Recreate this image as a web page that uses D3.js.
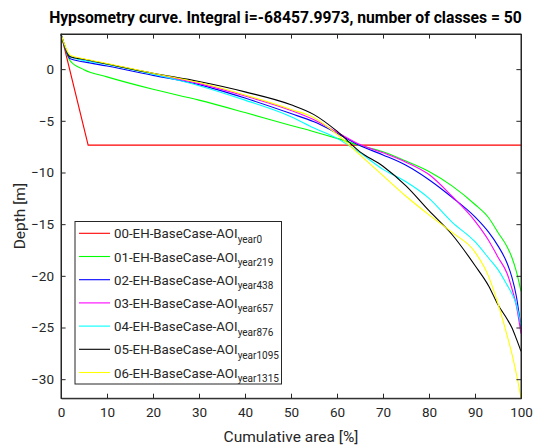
<!DOCTYPE html>
<html><head><meta charset="utf-8">
<script src="https://cdn.jsdelivr.net/npm/d3@7"></script>
<style>body{margin:0;background:#fff;} text{font-family:Roboto, sans-serif;}</style>
</head><body><svg id="c" width="534" height="446"></svg>
<script>
const titleText = "Hypsometry curve. Integral i=-68457.9973, number of classes = 50";
const xTicks = [0,10,20,30,40,50,60,70,80,90,100];
const yTicks = [-30,-25,-20,-15,-10,-5,0];
const seriesNames = ["00-EH-BaseCase-AOI","01-EH-BaseCase-AOI","02-EH-BaseCase-AOI","03-EH-BaseCase-AOI","04-EH-BaseCase-AOI","05-EH-BaseCase-AOI","06-EH-BaseCase-AOI"];
const seriesSubs = ["year0","year219","year438","year657","year876","year1095","year1315"];
const seriesColors = ["#ff0000","#00ff00","#0000ff","#ff00ff","#00ffff","#000000","#ffff00"];
// red (year 0)
const redX = [0, 5.9, 100];
const redY = [3.4, -7.35, -7.35];
// shared cumulative-area positions for other series
const areaX   = [0, 2, 5, 10, 20, 30, 40, 50, 55, 60, 65, 70, 75, 80, 85, 90, 93, 95, 97, 98, 99, 100];
const green   = [3.4, 0.8, -0.05, -0.75, -1.95, -3.0, -4.2, -5.45, -6.05, -6.7, -7.4, -8.0, -8.9, -9.9, -11.3, -13.1, -14.4, -15.8, -17.2, -18.2, -19.6, -21.5];
const blue    = [3.4, 1.0, 0.7, 0.3, -0.6, -1.5, -2.8, -4.3, -5.1, -6.2, -7.4, -8.3, -9.3, -10.7, -12.4, -14.3, -15.8, -17.1, -18.8, -20.1, -22.0, -25.0];
const magenta = [3.4, 1.2, 0.9, 0.5, -0.45, -1.4, -2.6, -4.0, -4.9, -6.1, -7.3, -8.1, -9.0, -10.2, -12.3, -14.7, -16.6, -18.2, -19.8, -21.2, -22.9, -25.6];
const cyan    = [3.4, 1.2, 0.85, 0.45, -0.5, -1.6, -3.0, -4.6, -5.7, -6.7, -8.1, -9.7, -10.9, -12.5, -14.8, -16.7, -18.3, -19.4, -20.9, -21.7, -22.8, -24.8];
const black   = [3.4, 1.2, 0.95, 0.5, -0.4, -1.2, -2.2, -3.45, -4.4, -6.0, -8.0, -9.4, -11.3, -13.7, -16.0, -19.0, -21.0, -22.8, -24.2, -25.0, -26.1, -27.3];
const yellow  = [3.4, 1.35, 1.0, 0.55, -0.4, -1.3, -2.5, -3.9, -4.7, -6.3, -8.3, -10.3, -12.3, -14.1, -15.8, -17.7, -20.1, -22.7, -25.8, -27.5, -29.5, -31.8];

const svg = d3.select("#c");
const L = 61, R = 521, T = 34, B = 398.3;
const x = d3.scaleLinear().domain([0,100]).range([L,R]);
const y = d3.scaleLinear().domain([-31.85,3.4]).range([B,T]);
const axisCol = "#262626";

const series = [
  redX.map((v,i)=>[v,redY[i]]),
  ...[green,blue,magenta,cyan,black,yellow].map(arr=>areaX.map((v,i)=>[v,arr[i]]))
];
const lineLin = d3.line().x(d=>x(d[0])).y(d=>y(d[1]));
const lineSm = d3.line().x(d=>x(d[0])).y(d=>y(d[1])).curve(d3.curveMonotoneX);
const g = svg.append("g");
series.forEach((s,i)=>{
  g.append("path").attr("d",(i===0?lineLin:lineSm)(s)).attr("fill","none").attr("stroke",seriesColors[i]).attr("stroke-width",1.1);
});

// axes
const tl = 4.6;
const ax = svg.append("g").attr("transform",`translate(0,${B})`).call(d3.axisBottom(x).tickValues(xTicks).tickSizeInner(-tl).tickSizeOuter(0).tickPadding(9));
const axT = svg.append("g").attr("transform",`translate(0,${T})`).call(d3.axisTop(x).tickValues(xTicks).tickSizeInner(-tl).tickSizeOuter(0).tickFormat(""));
const ay = svg.append("g").attr("transform",`translate(${L},0)`).call(d3.axisLeft(y).tickValues(yTicks).tickSizeInner(-tl).tickSizeOuter(0).tickPadding(7));
const ayR = svg.append("g").attr("transform",`translate(${R},0)`).call(d3.axisRight(y).tickValues(yTicks).tickSizeInner(-tl).tickSizeOuter(0).tickFormat(""));
[ax,axT,ay,ayR].forEach(a=>{
  a.select(".domain").attr("stroke",axisCol);
  a.selectAll(".tick line").attr("stroke",axisCol);
  a.selectAll(".tick text").attr("fill",axisCol).style("font-size","13.5px").style("font-family","Roboto");
});
svg.append("rect").attr("x",L).attr("y",T).attr("width",R-L).attr("height",B-T).attr("fill","none").attr("stroke",axisCol).attr("stroke-width",1);

// labels
svg.append("text").attr("x",285.5).attr("y",23).attr("text-anchor","middle").style("font-size","15.7px").style("font-weight","bold").attr("fill","#000").text(titleText);
svg.append("text").attr("x",(L+R)/2).attr("y",442).attr("text-anchor","middle").style("font-size","15.5px").attr("fill",axisCol).text("Cumulative area [%]");
svg.append("text").attr("transform",`translate(25,${(T+B)/2}) rotate(-90)`).attr("text-anchor","middle").style("font-size","15.5px").attr("fill",axisCol).text("Depth [m]");

// legend
const lg = svg.append("g");
lg.append("rect").attr("x",75).attr("y",221.5).attr("width",206.5).attr("height",162.5).attr("fill","#fff").attr("stroke",axisCol).attr("stroke-width",1);
seriesNames.forEach((n,i)=>{
  const yy = 233.3 + i*23.2;
  lg.append("line").attr("x1",79).attr("x2",110).attr("y1",yy).attr("y2",yy).attr("stroke",seriesColors[i]).attr("stroke-width",1.1);
  const t = lg.append("text").attr("x",114).attr("y",yy+5).style("font-size","13.3px").attr("fill",axisCol);
  t.append("tspan").text(n);
  t.append("tspan").attr("dy",4.5).style("font-size","10px").text(seriesSubs[i]);
});
</script></body></html>
